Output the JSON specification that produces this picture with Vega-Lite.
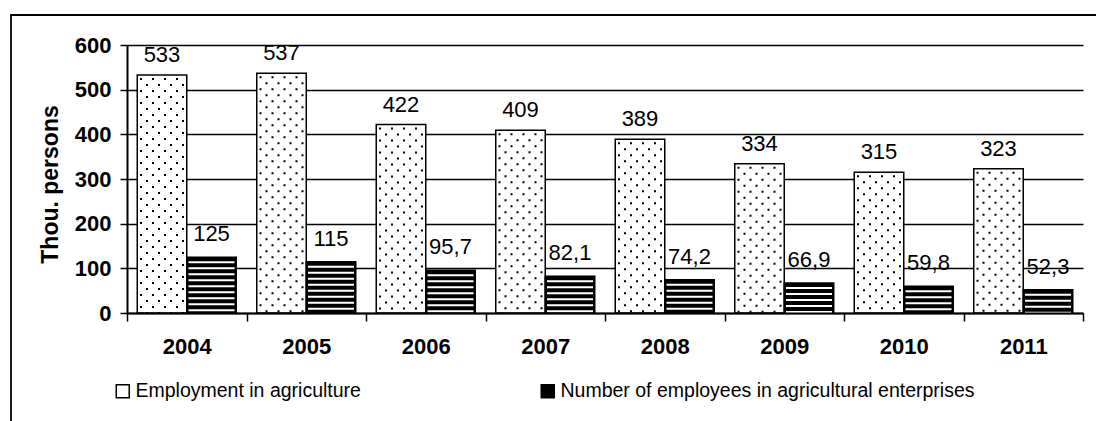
{
  "$schema": "https://vega.github.io/schema/vega-lite/v6.json",
  "width": 1091,
  "height": 412,
  "autosize": "none",
  "padding": {"left": 11, "top": 15, "right": -6, "bottom": -6},
  "background": "white",
  "config": {
    "view": {"stroke": "black", "strokeWidth": 1.8},
    "locale": {"number": {"decimal": ",", "thousands": "\u00a0", "grouping": [3], "currency": ["", ""]}},
    "font": "Liberation Sans"
  },
  "data": {
    "values": [
      {"year": "2004", "series": "Employment in agriculture", "value": 533},
      {"year": "2005", "series": "Employment in agriculture", "value": 537},
      {"year": "2006", "series": "Employment in agriculture", "value": 422},
      {"year": "2007", "series": "Employment in agriculture", "value": 409},
      {"year": "2008", "series": "Employment in agriculture", "value": 389},
      {"year": "2009", "series": "Employment in agriculture", "value": 334},
      {"year": "2010", "series": "Employment in agriculture", "value": 315},
      {"year": "2011", "series": "Employment in agriculture", "value": 323},
      {"year": "2004", "series": "Number of employees in agricultural enterprises", "value": 125},
      {"year": "2005", "series": "Number of employees in agricultural enterprises", "value": 115},
      {"year": "2006", "series": "Number of employees in agricultural enterprises", "value": 95.7},
      {"year": "2007", "series": "Number of employees in agricultural enterprises", "value": 82.1},
      {"year": "2008", "series": "Number of employees in agricultural enterprises", "value": 74.2},
      {"year": "2009", "series": "Number of employees in agricultural enterprises", "value": 66.9},
      {"year": "2010", "series": "Number of employees in agricultural enterprises", "value": 59.8},
      {"year": "2011", "series": "Number of employees in agricultural enterprises", "value": 52.3}
    ]
  },
  "encoding": {
    "x": {
      "field": "year", "type": "nominal",
      "scale": {"range": [116, 1072], "paddingInner": 0, "paddingOuter": 0},
      "axis": {
        "title": null, "offset": -114, "tickBand": "extent", "labelAngle": 0,
        "labelFont": "Liberation Sans", "labelFontSize": 22, "labelFontWeight": "bold", "labelColor": "black",
        "labelPadding": 15, "tickColor": "black", "tickSize": 8, "tickWidth": 1.5,
        "domainColor": "black", "domainWidth": 2, "grid": false, "zindex": 1
      }
    },
    "y": {
      "field": "value", "type": "quantitative",
      "scale": {"domain": [0, 600], "range": [298, 30], "nice": false},
      "axis": {
        "title": "Thou. persons", "offset": -116, "values": [0, 100, 200, 300, 400, 500, 600],
        "labelFont": "Liberation Sans", "labelFontSize": 22, "labelFontWeight": "bold", "labelColor": "black",
        "labelPadding": 9, "tickSize": 7, "tickColor": "black", "tickWidth": 1.5,
        "domainColor": "black", "domainWidth": 2,
        "grid": true, "gridColor": "black", "gridWidth": 1.3, "gridOpacity": 1,
        "titleFont": "Liberation Sans", "titleFontSize": 23, "titleFontWeight": "bold", "titleColor": "black",
        "titleX": -77, "titleY": 169, "titleAngle": -90, "titleAlign": "center", "titleBaseline": "middle"
      }
    }
  },
  "layer": [
    {
      "mark": {"type": "bar", "stroke": "black", "strokeWidth": 1.5},
      "encoding": {
        "xOffset": {"field": "series", "type": "nominal", "scale": {"paddingInner": 0, "paddingOuter": 0.207}},
        "fill": {
          "field": "series", "type": "nominal",
          "scale": {"range": ["#ffffff", "#000000"]},
          "legend": {
            "orient": "none", "legendX": 102, "legendY": 366, "direction": "horizontal", "title": null,
            "symbolType": "square", "symbolSize": 169, "symbolStrokeColor": "black", "symbolStrokeWidth": 1.5,
            "symbolOpacity": 1,
            "labelFont": "Liberation Sans", "labelFontSize": 19.5, "labelColor": "black", "labelLimit": 600,
            "labelOffset": 3, "columnPadding": 177, "padding": 0
          }
        }
      }
    },
    {"transform": [{"filter": "datum.series === 'Employment in agriculture'"}],
     "mark": {"type": "rule", "xOffset": -45.75, "strokeWidth": 2, "strokeDash": [2, 10], "strokeDashOffset": 9, "color": "black"},
     "encoding": {"y2": {"datum": 0}}},
    {"transform": [{"filter": "datum.series === 'Employment in agriculture'"}],
     "mark": {"type": "rule", "xOffset": -39.75, "strokeWidth": 2, "strokeDash": [2, 10], "strokeDashOffset": 3, "color": "black"},
     "encoding": {"y2": {"datum": 0}}},
    {"transform": [{"filter": "datum.series === 'Employment in agriculture'"}],
     "mark": {"type": "rule", "xOffset": -33.75, "strokeWidth": 2, "strokeDash": [2, 10], "strokeDashOffset": 9, "color": "black"},
     "encoding": {"y2": {"datum": 0}}},
    {"transform": [{"filter": "datum.series === 'Employment in agriculture'"}],
     "mark": {"type": "rule", "xOffset": -27.75, "strokeWidth": 2, "strokeDash": [2, 10], "strokeDashOffset": 3, "color": "black"},
     "encoding": {"y2": {"datum": 0}}},
    {"transform": [{"filter": "datum.series === 'Employment in agriculture'"}],
     "mark": {"type": "rule", "xOffset": -21.75, "strokeWidth": 2, "strokeDash": [2, 10], "strokeDashOffset": 9, "color": "black"},
     "encoding": {"y2": {"datum": 0}}},
    {"transform": [{"filter": "datum.series === 'Employment in agriculture'"}],
     "mark": {"type": "rule", "xOffset": -15.75, "strokeWidth": 2, "strokeDash": [2, 10], "strokeDashOffset": 3, "color": "black"},
     "encoding": {"y2": {"datum": 0}}},
    {"transform": [{"filter": "datum.series === 'Employment in agriculture'"}],
     "mark": {"type": "rule", "xOffset": -9.75, "strokeWidth": 2, "strokeDash": [2, 10], "strokeDashOffset": 9, "color": "black"},
     "encoding": {"y2": {"datum": 0}}},
    {"transform": [{"filter": "datum.series === 'Employment in agriculture'"}],
     "mark": {"type": "rule", "xOffset": -3.75, "strokeWidth": 2, "strokeDash": [2, 10], "strokeDashOffset": 3, "color": "black"},
     "encoding": {"y2": {"datum": 0}}},
    {"transform": [{"filter": "datum.series !== 'Employment in agriculture'"}],
     "mark": {"type": "rule", "strokeWidth": 46, "strokeDash": [2, 4], "strokeDashOffset": 2, "color": "white"},
     "encoding": {
       "xOffset": {"field": "series", "type": "nominal", "scale": {"paddingInner": 0, "paddingOuter": 0.207}},
       "y2": {"datum": 0}}},
    {"transform": [{"filter": "datum.series === 'Employment in agriculture'"}],
     "mark": {"type": "text", "baseline": "alphabetic", "dy": -13, "fontSize": 22, "font": "Liberation Sans", "color": "black"},
     "encoding": {
       "xOffset": {"field": "series", "type": "nominal", "scale": {"paddingInner": 0, "paddingOuter": 0.207}},
       "text": {"field": "value", "type": "quantitative", "format": ".3~r"}}},
    {"transform": [{"filter": "datum.series !== 'Employment in agriculture'"}],
     "mark": {"type": "text", "baseline": "alphabetic", "dy": -16, "fontSize": 22, "font": "Liberation Sans", "color": "black"},
     "encoding": {
       "xOffset": {"field": "series", "type": "nominal", "scale": {"paddingInner": 0, "paddingOuter": 0.207}},
       "text": {"field": "value", "type": "quantitative", "format": ".3~r"}}}
  ]
}
